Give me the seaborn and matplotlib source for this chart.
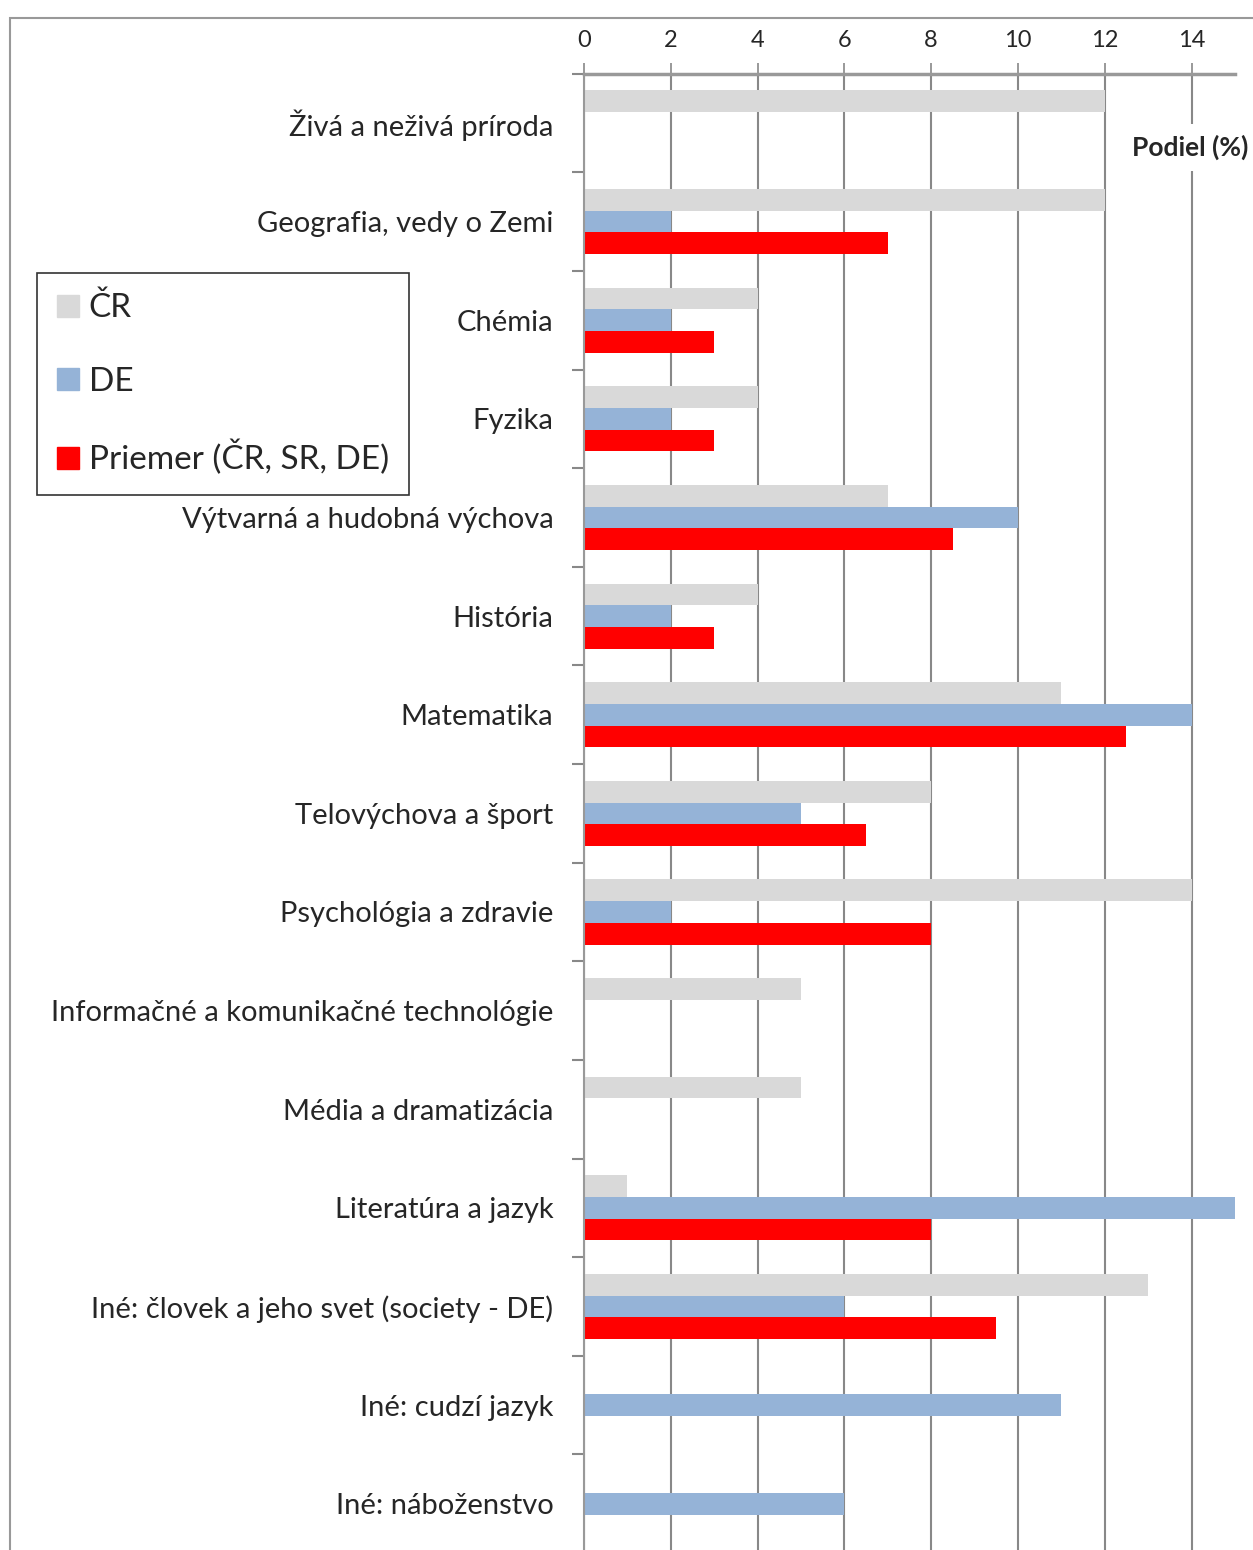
import seaborn as sns
import matplotlib.pyplot as plt
import pandas as pd
from matplotlib.patches import Rectangle

# categories (top to bottom) and series values in percent
subjects = [
    "Živá a neživá príroda",
    "Geografia, vedy o Zemi",
    "Chémia",
    "Fyzika",
    "Výtvarná a hudobná výchova",
    "História",
    "Matematika",
    "Telovýchova a šport",
    "Psychológia a zdravie",
    "Informačné a komunikačné technológie",
    "Média a dramatizácia",
    "Literatúra a jazyk",
    "Iné: človek a jeho svet (society - DE)",
    "Iné: cudzí jazyk",
    "Iné: náboženstvo",
]
cr = [12, 12, 4, 4, 7, 4, 11, 8, 14, 5, 5, 1, 13, 0, 0]
de = [0, 2, 2, 2, 10, 2, 14, 5, 2, 0, 0, 15, 6, 11, 6]
avg = [0, 7, 3, 3, 8.5, 3, 12.5, 6.5, 8, 0, 0, 8, 9.5, 0, 0]
series = ["ČR", "DE", "Priemer (ČR, SR, DE)"]
colors = ["#D9D9D9", "#95B3D7", "#FF0000"]
x_ticks = [0, 2, 4, 6, 8, 10, 12, 14]

rows = []
for name, vals in zip(series, [cr, de, avg]):
    for s, v in zip(subjects, vals):
        rows.append({"subject": s, "series": name, "value": v})
df = pd.DataFrame(rows)

sns.set_theme(style="white")
plt.rcParams["font.family"] = ["Lato", "DejaVu Sans"]

fig = plt.figure(figsize=(12.53, 15.5), dpi=100)
ax = fig.add_axes([0.466, -0.002, 0.5196, 0.9545])

sns.barplot(data=df, y="subject", x="value", hue="series", order=subjects,
            hue_order=series, palette=colors, orient="h", width=0.66,
            gap=0, linewidth=0, saturation=1, ax=ax)

ax.set_xlim(0, 15)
ax.set_ylim(len(subjects) - 0.5, -0.5)
ax.set_xticks(x_ticks)
ax.xaxis.tick_top()
ax.tick_params(axis="x", which="major", top=True, direction="inout",
               length=16, width=1.2, color="#888888", pad=8, labelsize=17)
ax.set_yticks(range(len(subjects)))
ax.set_yticklabels(subjects)
ax.tick_params(axis="y", which="major", length=0, pad=22, labelsize=21)
ax.set_yticks([i + 0.5 for i in range(-1, len(subjects))], minor=True)
ax.tick_params(axis="y", which="minor", left=True, direction="out",
               length=9, width=1.5, color="#888888")
ax.set_xlabel("")
ax.set_ylabel("")
ax.grid(axis="x", color="#888888", linewidth=1.5)
ax.set_axisbelow(True)
for side in ["right", "bottom"]:
    ax.spines[side].set_visible(False)
ax.spines["top"].set_color("#999999")
ax.spines["top"].set_linewidth(2.5)
ax.spines["left"].set_color("#999999")
ax.spines["left"].set_linewidth(1.5)

ax.text(1.02, 0.95, "Podiel (%)", transform=ax.transAxes, ha="right",
        va="center", fontsize=19, fontweight="bold",
        bbox=dict(facecolor="white", edgecolor="none", pad=8))

ax.get_legend().remove()
handles = [Rectangle((0, 0), 1, 1, color=c) for c in colors]
leg = fig.legend(handles, series, loc="upper left",
                 bbox_to_anchor=(0.0295, 0.8239), fontsize=24,
                 frameon=True, fancybox=False, edgecolor="black",
                 handlelength=0.65, handleheight=0.65, handletextpad=0.3,
                 labelspacing=1.3, borderpad=0.6, borderaxespad=0)
leg.get_frame().set_linewidth(1.2)

# outer chart border
fig.add_artist(Rectangle((0.008, -0.1), 1.2, 1.0884, transform=fig.transFigure,
                         fill=False, edgecolor="#999999", linewidth=1.5))

fig.savefig("out.png", dpi=100)
